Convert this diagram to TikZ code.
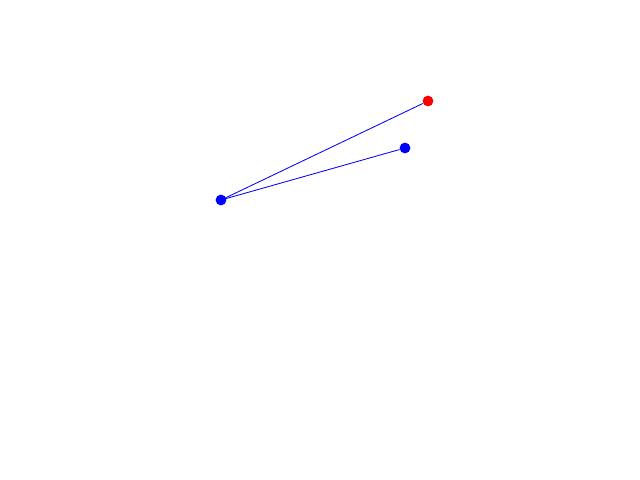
\documentclass[tikz,border=0pt]{standalone}
\usepackage{xcolor}
\usepackage{tikz}

\begin{document}
\begin{tikzpicture}[x=0.025cm, y=-0.025cm,
    dot/.style={circle, inner sep=0pt, minimum size=0.27cm, fill=#1},
    link/.style={blue, line width=0.6pt}]

    \useasboundingbox (0,0) rectangle (640,480);

    \node[dot=blue] (base) at (221,200) {};
    \node[dot=blue] (tip) at (405,148) {};
    \node[dot=red] (goal) at (428,101) {};

    \draw[link] (base.center) -- (goal);
    \draw[link] (base.center) -- (tip);
\end{tikzpicture}
\end{document}
